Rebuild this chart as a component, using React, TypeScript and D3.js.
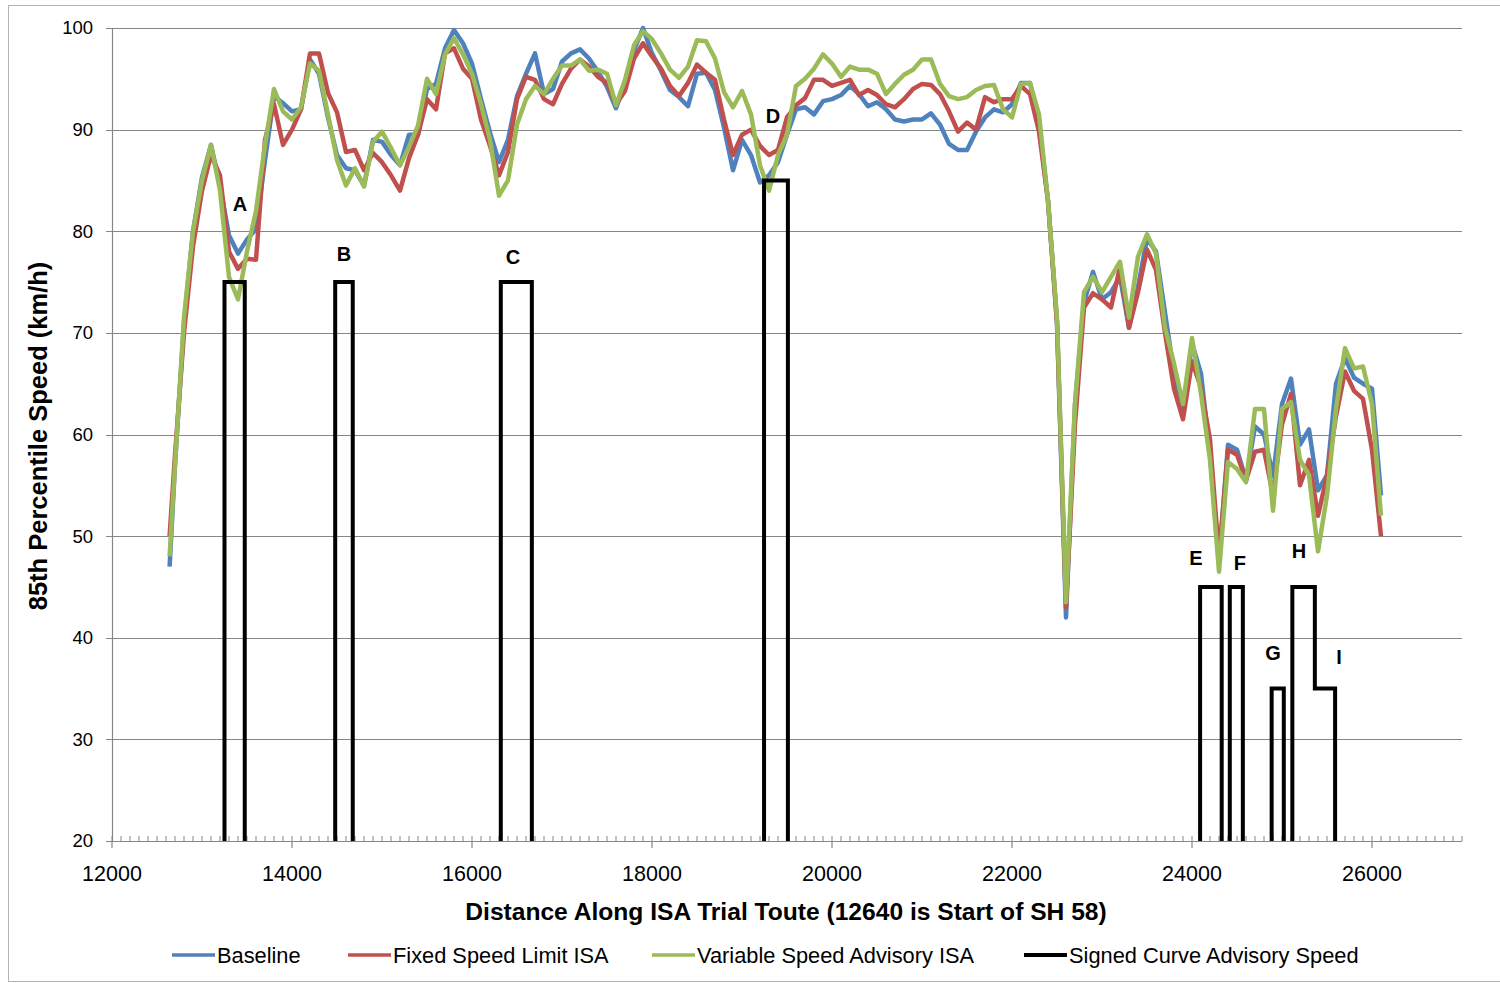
import React from 'react';
import * as d3 from 'd3';

// distance along route (m)
const distance = [
  12640, 12700, 12800, 12900, 13000, 13100, 13200, 13300, 13400, 13500, 13600, 13700, 13800, 13900,
  14000, 14100, 14200, 14300, 14400, 14500, 14600, 14700, 14800, 14900,
  15000, 15100, 15200, 15300, 15400, 15500, 15600, 15700, 15800, 15900,
  16000, 16100, 16200, 16300, 16400, 16500, 16600, 16700, 16800, 16900,
  17000, 17100, 17200, 17300, 17400, 17500, 17600, 17700, 17800, 17900,
  18000, 18100, 18200, 18300, 18400, 18500, 18600, 18700, 18800, 18900,
  19000, 19100, 19200, 19300, 19400, 19500, 19600, 19700, 19800, 19900,
  20000, 20100, 20200, 20300, 20400, 20500, 20600, 20700, 20800, 20900,
  21000, 21100, 21200, 21300, 21400, 21500, 21600, 21700, 21800, 21900,
  22000, 22100, 22200, 22300, 22400, 22500, 22600, 22700, 22800, 22900,
  23000, 23100, 23200, 23300, 23400, 23500, 23600, 23700, 23800, 23900,
  24000, 24100, 24200, 24300, 24400, 24500, 24600, 24700, 24800, 24900,
  25000, 25100, 25200, 25300, 25400, 25500, 25600, 25700, 25800, 25900,
  26000, 26100,
];

const baseline = [
  47, 57, 71, 80, 85.3, 88.5, 84.5, 79.6, 77.8, 79.2, 80.2, 87, 93.3, 92.6,
  91.8, 92, 96.9, 95.5, 91.2, 87.5, 86.2, 86, 84.5, 89,
  88.8, 87.5, 86.5, 89.5, 89.5, 94, 94.5, 98, 99.8, 98.5,
  96.5, 93, 89.7, 86.8, 89, 93.3, 95.5, 97.5, 93.5, 94,
  96.7, 97.5, 97.9, 97, 95.7, 94.2, 92.1, 94.6, 97.8, 100,
  97.5, 95.8, 93.9, 93.2, 92.3, 95.5, 95.6, 93.9, 90.2, 86,
  89, 87.5, 84.8, 85.5, 86.8, 89.5, 92, 92.2, 91.5, 92.8,
  93, 93.4, 94.3, 93.5, 92.3, 92.7, 92, 91, 90.8, 91,
  91, 91.6, 90.5, 88.6, 88, 88, 89.8, 91.2, 92, 91.7,
  92.5, 94.6, 94.6, 90.5, 83, 71, 42, 63, 73, 76,
  73.3, 74, 75.5, 70.5, 74.5, 79.3, 78, 72, 66, 62,
  69, 66, 58, 47.5, 59, 58.5, 55.5, 60.8, 60, 55.9,
  63, 65.5, 59, 60.5, 54.5, 56, 65, 67.5, 65.6, 65,
  64.5, 54,
];

const fixedIsa = [
  50, 58, 70, 78.5, 84, 87.5, 85.5, 78, 76.3, 77.3, 77.2, 89, 92.5, 88.5,
  90, 92, 97.5, 97.5, 93.6, 91.7, 87.8, 88, 86, 87.7,
  86.8, 85.5, 84, 87.2, 89.5, 93, 92, 97.5, 98, 96,
  95, 91, 88.4, 85.5, 87.8, 93, 95.2, 94.9, 93, 92.5,
  94.5, 96, 96.9, 96.2, 95.2, 94.6, 92.5, 93.8, 97, 98.5,
  97.2, 96, 94.3, 93.3, 94.6, 96.4, 95.6, 94.9, 91, 87.5,
  89.5, 90, 88.4, 87.5, 88, 91.2, 92.4, 93.1, 94.9, 94.9,
  94.3, 94.6, 94.9, 93.4, 93.9, 93.4, 92.5, 92.2, 93, 94,
  94.5, 94.4, 93.5, 91.8, 89.8, 90.7, 90, 93.2, 92.7, 93,
  93, 94.3, 93.5, 89.8, 83, 71, 43, 61, 72.5, 73.9,
  73.3, 72.5, 76.5, 70.5, 74, 78.2, 76.2, 70, 64.5, 61.5,
  67.2, 64.6, 59.5, 48, 58.5, 58, 55.5, 58.3, 58.5, 54,
  61, 64, 55, 57.5, 52, 56, 61.8, 66.2, 64.3, 63.5,
  58.5, 50,
];

const variableIsa = [
  48, 57, 71.5, 80, 85, 88.5, 84, 75.5, 73.3, 78, 82, 88.5, 94, 91.8,
  91, 92.2, 96.5, 95.8, 91.5, 87, 84.5, 86.2, 84.4, 88.8,
  89.8, 88.2, 86.5, 88.3, 90.4, 95, 93.5, 97.4, 99, 97.4,
  95.5, 92.5, 89, 83.5, 85, 90.5, 93, 94.3, 93.5, 95,
  96.3, 96.3, 96.9, 95.8, 95.9, 95.5, 92.4, 94.9, 98.3, 99.7,
  98.9, 97.5, 95.9, 95.1, 96.2, 98.8, 98.7, 97, 93.7, 92.2,
  93.8, 91.5, 86.5, 84, 87.5, 89.5, 94.3, 95, 96, 97.4,
  96.5, 95.2, 96.2, 95.9, 95.9, 95.5, 93.5, 94.5, 95.4, 95.9,
  96.9, 96.9, 94.5, 93.3, 93, 93.2, 93.9, 94.3, 94.4, 92,
  91.2, 94.5, 94.6, 91.5, 83, 71.5, 43.5, 63, 74, 75.5,
  74, 75.5, 77, 71.5, 77.5, 79.7, 77.8, 70.5, 67, 63,
  69.5, 64, 57.5, 46.5, 57.3, 56.6, 55.3, 62.5, 62.5, 52.5,
  62.5, 63.2, 57.5, 56, 48.5, 54, 62.5, 68.5, 66.5, 66.7,
  63, 52,
];

// signed curve advisory speeds
const curveNames = ['A', 'B', 'C', 'D', 'E', 'F', 'G', 'H', 'I'];
const curveStart = [13250, 14480, 16320, 19245, 24090, 24420, 24885, 25115, 25365];
const curveEnd = [13475, 14675, 16665, 19510, 24330, 24565, 25020, 25365, 25590];
const curveSpeed = [75, 75, 75, 85, 45, 45, 35, 45, 35];
const labelDist = [13422, 14578, 16456, 19344, 24044, 24533, 24900, 25189, 25633];
const labelSpeed = [82.7, 77.8, 77.5, 91.4, 47.9, 47.4, 38.5, 48.6, 38.1];

const yTicks = [20, 30, 40, 50, 60, 70, 80, 90, 100];
const xTicks = [12000, 14000, 16000, 18000, 20000, 22000, 24000, 26000];

const seriesNames = ['Baseline', 'Fixed Speed Limit ISA', 'Variable Speed Advisory ISA', 'Signed Curve Advisory Speed'];
const seriesColors = ['#4F81BD', '#C0504D', '#9BBB59', '#000000'];

const FONT = '"Liberation Sans", Arial, sans-serif';

export default function App() {
  const left = 112, right = 1462, top = 28, bottom = 841;
  const x = d3.scaleLinear().domain([12000, 27000]).range([left, right]);
  const y = d3.scaleLinear().domain([20, 100]).range([bottom, top]);

  const line = d3.line<[number, number]>().x(d => x(d[0])).y(d => y(d[1]));
  const seriesPts = [baseline, fixedIsa, variableIsa].map(vals =>
    distance.map((d, i) => [d, vals[i]] as [number, number]));

  // step outline for the advisory series, zero between curves
  const adv: [number, number][] = [];
  curveNames.forEach((_, i) => {
    const joined = i > 0 && curveEnd[i - 1] === curveStart[i];
    if (!joined) adv.push([curveStart[i], 0]);
    adv.push([curveStart[i], curveSpeed[i]]);
    adv.push([curveEnd[i], curveSpeed[i]]);
    const next = i < curveNames.length - 1 && curveStart[i + 1] === curveEnd[i];
    if (!next) adv.push([curveEnd[i], 0]);
  });

  const minorTicks = d3.range(12000, 27001, 100);
  const grid = '#878787';

  const legendX = [172, 348, 652, 1024];

  return (
    <svg width={1500} height={983} style={{ position: 'absolute', left: 0, top: 0, background: '#fff' }}
      fontFamily={FONT}>
      <rect x={8.5} y={5.5} width={1495} height={976} fill="none" stroke="#b3b3b3" />
      <defs>
        <clipPath id="plot">
          <rect x={left - 4} y={top - 4} width={right - left + 8} height={bottom - top + 4} />
        </clipPath>
      </defs>

      {yTicks.filter(t => t > 20).map(t => (
        <line key={t} x1={left - 6} x2={right} y1={Math.round(y(t)) + 0.5} y2={Math.round(y(t)) + 0.5} stroke={grid} strokeWidth={1.2} />
      ))}
      <line x1={left + 0.5} x2={left + 0.5} y1={top} y2={bottom} stroke={grid} strokeWidth={1.2} />
      <line x1={left - 6} x2={right} y1={bottom + 0.5} y2={bottom + 0.5} stroke={grid} strokeWidth={1.2} />
      {minorTicks.map(t => (
        <line key={t} x1={x(t)} x2={x(t)} y1={bottom - 5} y2={bottom} stroke={grid} strokeWidth={1} />
      ))}
      {xTicks.map(t => (
        <line key={t} x1={x(t)} x2={x(t)} y1={bottom} y2={bottom + 7} stroke={grid} strokeWidth={1.2} />
      ))}

      {yTicks.map(t => (
        <text key={t} x={93} y={y(t)} dy="0.35em" textAnchor="end" fontSize={18.5} fill="#000">{t}</text>
      ))}
      {xTicks.map(t => (
        <text key={t} x={x(t)} y={881} textAnchor="middle" fontSize={21.5} fill="#000">{t}</text>
      ))}

      <g clipPath="url(#plot)" fill="none" strokeLinejoin="round">
        {seriesPts.map((pts, i) => (
          <path key={i} d={line(pts)!} stroke={seriesColors[i]} strokeWidth={4.5} />
        ))}
        <path d={line(adv)!} stroke="#000" strokeWidth={4} strokeLinejoin="miter" />
      </g>

      {curveNames.map((n, i) => (
        <text key={n} x={x(labelDist[i])} y={y(labelSpeed[i])} dy="0.36em" textAnchor="middle"
          fontSize={20} fontWeight="bold">{n}</text>
      ))}

      <text x={786} y={920} textAnchor="middle" fontSize={24.6} fontWeight="bold">
        Distance Along ISA Trial Toute (12640 is Start of SH 58)
      </text>
      <text transform="translate(47,436) rotate(-90)" textAnchor="middle" fontSize={25.5} fontWeight="bold">
        85th Percentile Speed (km/h)
      </text>

      {seriesNames.map((n, i) => (
        <g key={n}>
          <line x1={legendX[i]} x2={legendX[i] + 43} y1={955} y2={955} stroke={seriesColors[i]} strokeWidth={i === 3 ? 4 : 3.5} />
          <text x={legendX[i] + 45} y={955} dy="0.36em" fontSize={21.8}>{n}</text>
        </g>
      ))}
    </svg>
  );
}
